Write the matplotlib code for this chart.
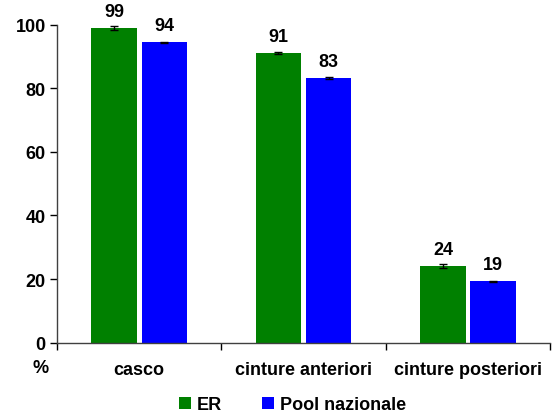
import numpy as np
import matplotlib
matplotlib.use('Agg')
import matplotlib.pyplot as plt

# DADOS
categorie = ['casco', 'cinture anteriori', 'cinture posteriori']
er = [99.0, 91.1, 24.1]
pool = [94.5, 83.2, 19.3]
er_err = [0.6, 0.4, 0.7]
pool_err = [0.2, 0.2, 0.15]
er_lab = ['99', '91', '24']
pool_lab = ['94', '83', '19']

plt.rcParams['font.family'] = ['Liberation Sans', 'DejaVu Sans']
plt.rcParams['font.weight'] = 'bold'
FS = 13

fig = plt.figure(figsize=(5.58, 4.14), dpi=100)
ax = fig.add_axes([0.102, 0.170, 0.884, 0.768])

x = np.arange(len(categorie))
w = 0.275
gap = 0.015

b1 = ax.bar(x - w/2 - gap, er, w, color='#008000', label='ER',
            yerr=er_err, capsize=3, error_kw=dict(elinewidth=1, capthick=1, ecolor='black'))
b2 = ax.bar(x + w/2 + gap, pool, w, color='#0000ff', label='Pool nazionale',
            yerr=pool_err, capsize=3, error_kw=dict(elinewidth=1, capthick=1, ecolor='black'))

for rect, lab in zip(b1, er_lab):
    ax.annotate(lab, (rect.get_x() + rect.get_width()/2, rect.get_height()),
                xytext=(0, 6), textcoords='offset points', ha='center', va='bottom',
                fontsize=FS, fontweight='bold')
for rect, lab in zip(b2, pool_lab):
    ax.annotate(lab, (rect.get_x() + rect.get_width()/2, rect.get_height()),
                xytext=(0, 6), textcoords='offset points', ha='center', va='bottom',
                fontsize=FS, fontweight='bold')

ax.set_xlim(-0.5, 2.5)
ax.set_ylim(0, 100)
ax.set_yticks([0, 20, 40, 60, 80, 100])
ax.tick_params(axis='y', labelsize=FS, length=5, width=1, direction='out', pad=3)

# ticks do eixo x nas fronteiras das categorias, rótulos no centro
ax.set_xticks([-0.5, 0.5, 1.5, 2.5])
ax.set_xticklabels([])
ax.set_xticks(x, minor=True)
ax.set_xticklabels(categorie, minor=True, fontsize=FS, fontweight='bold')
ax.tick_params(axis='x', which='major', length=5, width=1, direction='out')
ax.tick_params(axis='x', which='minor', length=0, pad=13)

for s in ['top', 'right']:
    ax.spines[s].set_visible(False)
for s in ['left', 'bottom']:
    ax.spines[s].set_color('#404040')
    ax.spines[s].set_linewidth(1)

fig.text(0.072, 0.111, '%', fontsize=FS, fontweight='bold', ha='center', va='center')

fig.legend(handles=[b1, b2], labels=['ER', 'Pool nazionale'], loc='center',
           bbox_to_anchor=(0.524, 0.02), ncol=2, frameon=False, fontsize=FS,
           handlelength=0.7, handleheight=0.7, handletextpad=0.3, columnspacing=2.2)

fig.savefig('out.png', dpi=100)
